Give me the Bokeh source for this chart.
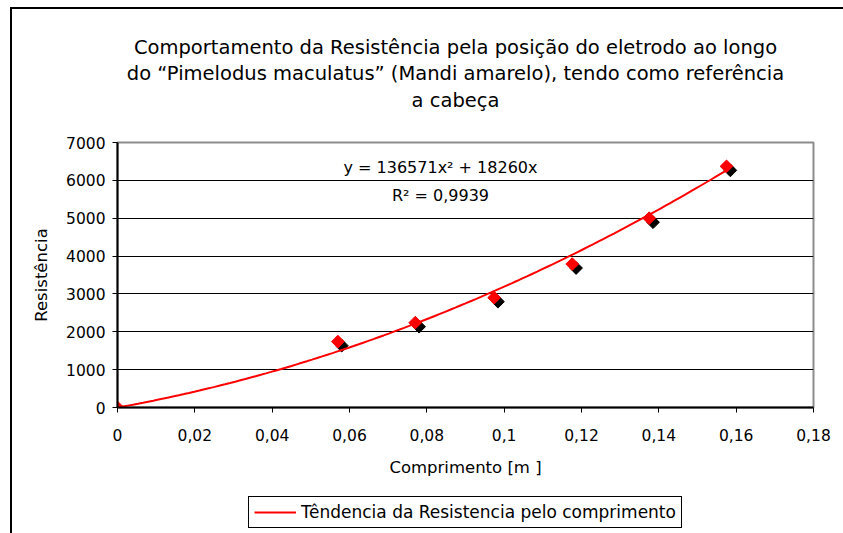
import numpy as np
from bokeh.plotting import figure
from bokeh.layouts import column
from bokeh.models import (Range1d, FixedTicker, Label, Legend, LegendItem)
from bokeh.embed import file_html
from bokeh.resources import INLINE

# ---------------- data ----------------
title_lines = [
    "Comportamento da Resistência pela posição do eletrodo ao longo",
    "do “Pimelodus maculatus” (Mandi amarelo), tendo como referência",
    "a cabeça",
]
comprimento = [0.0, 0.057, 0.077, 0.0974, 0.1176, 0.1375, 0.1575]
resistencia = [0, 1740, 2240, 2900, 3790, 5000, 6370]
# black (shadow) diamonds
sombra_x = [0.001, 0.058, 0.078, 0.0984, 0.1186, 0.1385, 0.1585]
sombra_y = [-106, 1634, 2134, 2794, 3684, 4894, 6264]
coef_a = 136571
coef_b = 18260
eq_text = "y = 136571x² + 18260x"
r2_text = "R² = 0,9939"
x_ticks = [0, 0.02, 0.04, 0.06, 0.08, 0.1, 0.12, 0.14, 0.16, 0.18]
x_tick_labels = ["0", "0,02", "0,04", "0,06", "0,08", "0,1", "0,12", "0,14", "0,16", "0,18"]
y_ticks = [0, 1000, 2000, 3000, 4000, 5000, 6000, 7000]
x_label = "Comprimento [m ]"
y_label = "Resistência"
legend_label = "Têndencia da Resistencia pelo comprimento"

FONT = "DejaVu Sans"


def strip(height):
    f = figure(width=843, height=height, output_backend="svg", toolbar_location=None,
               x_range=Range1d(0, 1), y_range=Range1d(0, 1),
               x_axis_type=None, y_axis_type=None,
               min_border_left=0, min_border_right=0, min_border_top=0,
               min_border_bottom=0)
    f.grid.visible = False
    f.outline_line_color = None
    f.background_fill_alpha = 0
    f.border_fill_alpha = 0
    return f


# ---------------- title strip ----------------
ts = strip(128)
for line, yy in zip(title_lines, [81, 55, 28]):
    ts.add_layout(Label(x=338, y=yy, x_units="screen", y_units="screen", text=line,
                        text_align="center", text_baseline="middle", text_font=FONT,
                        text_font_size="19.5px", text_color="black"))

# ---------------- main chart ----------------
p = figure(width=843, height=352, output_backend="svg", toolbar_location=None,
           x_range=Range1d(0, 0.18), y_range=Range1d(0, 7000),
           min_border_left=117, min_border_right=30, min_border_top=14,
           min_border_bottom=73)
p.background_fill_color = "white"
p.border_fill_alpha = 0
p.outline_line_color = "#8c8c8c"
p.outline_line_width = 2

p.xgrid.visible = False
p.ygrid.grid_line_color = "black"
p.ygrid.grid_line_width = 1
p.ygrid.ticker = FixedTicker(ticks=y_ticks)

p.xaxis.ticker = FixedTicker(ticks=x_ticks)
p.xaxis.major_label_overrides = {t: l for t, l in zip(x_ticks, x_tick_labels)}
p.yaxis.ticker = FixedTicker(ticks=y_ticks)
for ax in (p.xaxis[0], p.yaxis[0]):
    ax.axis_line_color = "black"
    ax.axis_line_width = 2
    ax.major_tick_line_color = "black"
    ax.major_tick_out = 5
    ax.major_tick_in = 0
    ax.minor_tick_line_color = None
    ax.major_label_text_font = FONT
    ax.major_label_text_font_size = "15.5px"
    ax.major_label_text_color = "black"
    ax.axis_label_text_font = FONT
    ax.axis_label_text_font_size = "16.5px"
    ax.axis_label_text_font_style = "normal"
    ax.axis_label_text_color = "black"
p.xaxis.axis_label = x_label
p.yaxis.axis_label = y_label
p.xaxis.major_label_standoff = 16
p.xaxis.axis_label_standoff = 14
p.yaxis.major_label_standoff = 7
p.yaxis.axis_label_standoff = 12

p.scatter(sombra_x, sombra_y, marker="square", size=9, angle=np.pi / 4,
          fill_color="black", line_color="black")
p.scatter(comprimento, resistencia, marker="square", size=9, angle=np.pi / 4,
          fill_color="#ff0000", line_color="#ff0000")

# trend line from the displayed equation
tx = np.linspace(0, max(comprimento), 120)
ty = coef_a * tx ** 2 + coef_b * tx
trend = p.line(tx, ty, line_color="#ff0000", line_width=2)

p.add_layout(Label(x=323, y=240, x_units="screen", y_units="screen", text=eq_text,
                   text_align="center", text_baseline="middle", text_font=FONT,
                   text_font_size="16px", text_color="black"))
p.add_layout(Label(x=323, y=212, x_units="screen", y_units="screen", text=r2_text,
                   text_align="center", text_baseline="middle", text_font=FONT,
                   text_font_size="16px", text_color="black"))

# ---------------- legend strip ----------------
lg = strip(53)
lg.y_range = Range1d(-2, -1)  # keeps the legend's own copy of the trend out of view
legend_line = lg.line(tx, ty, line_color="#ff0000", line_width=2)
legend = Legend(items=[LegendItem(label=legend_label, renderers=[legend_line])],
                location=(131, 5), orientation="vertical",
                border_line_color="black", border_line_width=1, border_line_alpha=1,
                background_fill_color="white", background_fill_alpha=1,
                label_text_font=FONT, label_text_font_size="17px",
                label_text_color="black",
                glyph_width=42, glyph_height=16, label_standoff=5,
                label_height=18, padding=5, spacing=0, margin=0)
lg.add_layout(legend, "center")

layout = column(ts, p, lg, spacing=0)
# outer chart border (only its left and top edges fall inside the window)
layout.styles = {
    "background": "linear-gradient(#000,#000) 10px 7px / 2px 900px no-repeat, "
                  "linear-gradient(#000,#000) 10px 7px / 1200px 2px no-repeat, #fff"
}

open("out.html", "w").write(file_html(layout, INLINE))
